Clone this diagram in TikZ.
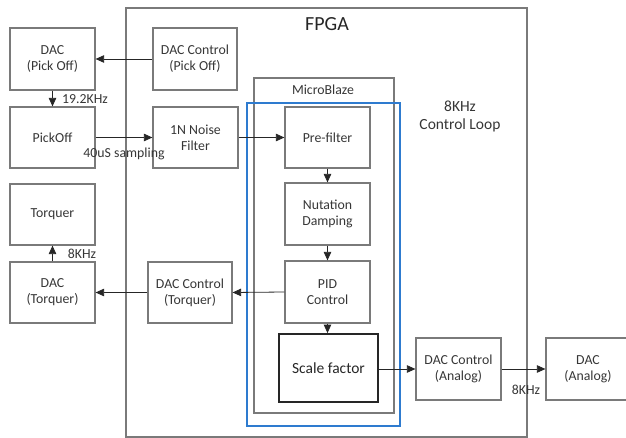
\documentclass[tikz,border=0pt]{standalone}
\usepackage{fontspec}
\setmainfont{Carlito}
\usetikzlibrary{arrows.meta}
\definecolor{edgegray}{HTML}{7A7A7A}
\definecolor{txtgray}{HTML}{363636}
\definecolor{loopblue}{HTML}{2E7BCF}
\tikzset{
  blk/.style={draw=edgegray, line width=1.2pt, text=txtgray, align=center,
    inner sep=0pt, font=\fontsize{13.8}{16}\selectfont},
  lbl/.style={text=txtgray, inner sep=0pt, font=\fontsize{13.8}{16}\selectfont},
  flow/.style={draw=black!85, line width=0.8pt, -{Triangle[length=8.5pt,width=7.5pt]}},
}
\begin{document}
\begin{tikzpicture}[x=1pt,y=-1pt]
\useasboundingbox (0,0) rectangle (626,438);

% FPGA and the MicroBlaze region
\draw[edgegray, line width=1.2pt] (126,8) rectangle (527,437);
\node[font=\fontsize{20}{24}\selectfont, text=black!85] (fpga) at (327,24) {FPGA};
\draw[edgegray, line width=1.2pt] (254,78) rectangle (394,413);
\node[lbl] (mb) at (323,90) {MicroBlaze};
\draw[loopblue, line width=1.5pt] (247,103) rectangle (400,426);
\node[lbl, font=\fontsize{15.5}{18}\selectfont, align=center] (loop) at (460,116) {8KHz\\Control Loop};

% blocks
\node[blk, minimum width=85, minimum height=62] (dacpo) at (52.5,59) {DAC\\(Pick Off)};
\node[blk, minimum width=84, minimum height=62] (ctlpo) at (195,59) {DAC Control\\(Pick Off)};
\node[blk, minimum width=85, minimum height=61] (pickoff) at (52.5,137.5) {PickOff};
\node[blk, minimum width=85, minimum height=61] (noise) at (195.5,137.5) {1N Noise\\Filter};
\node[blk, minimum width=85, minimum height=61] (pre) at (327.5,137.5) {Pre-filter};
\node[blk, minimum width=85, minimum height=62] (nut) at (327.5,214) {Nutation\\Damping};
\node[blk, minimum width=85, minimum height=62] (pid) at (327.5,292) {PID\\Control};
\node[blk, draw=black!85, line width=1.8pt, text=black!85, minimum width=99, minimum height=68,
  font=\fontsize{15.5}{18}\selectfont] (scale) at (328.5,368) {Scale factor};
\node[blk, minimum width=85, minimum height=62] (ctlan) at (458.5,369) {DAC Control\\(Analog)};
\node[blk, minimum width=84, minimum height=62] (dacan) at (588,369) {DAC\\(Analog)};
\node[blk, minimum width=85, minimum height=61] (torq) at (52.5,214.5) {Torquer};
\node[blk, minimum width=85, minimum height=61] (dactq) at (52.5,292.5) {DAC\\(Torquer)};
\node[blk, minimum width=84, minimum height=61] (ctltq) at (190,292.5) {DAC Control\\(Torquer)};

% signal flow
\draw[flow] (ctlpo.west) -- (dacpo.east);
\draw[flow] (dacpo.south) -- (pickoff.north);
\draw[flow] (pickoff.east) -- (noise.west);
\draw[flow] (noise.east) -- (pre.west);
\draw[flow] (pre.south) -- (nut.north);
\draw[flow] (nut.south) -- (pid.north);
\draw[flow] (pid.south) -- (pid.south |- scale.north);
\draw[flow] (pid.west) -- (ctltq.east);
\draw[flow] (ctltq.west) -- (dactq.east);
\draw[flow] (dactq.north) -- (torq.south);
\draw[flow] (scale.east |- ctlan.west) -- (ctlan.west);
\draw[flow] (ctlan.east) -- (dacan.west);

% rate labels
\node[lbl] (r192) at (85,99) {19.2KHz};
\node[lbl] (samp) at (124,154) {40uS sampling};
\node[lbl] (r8a) at (82,254) {8KHz};
\node[lbl] (r8b) at (526,390) {8KHz};
\end{tikzpicture}
\end{document}
